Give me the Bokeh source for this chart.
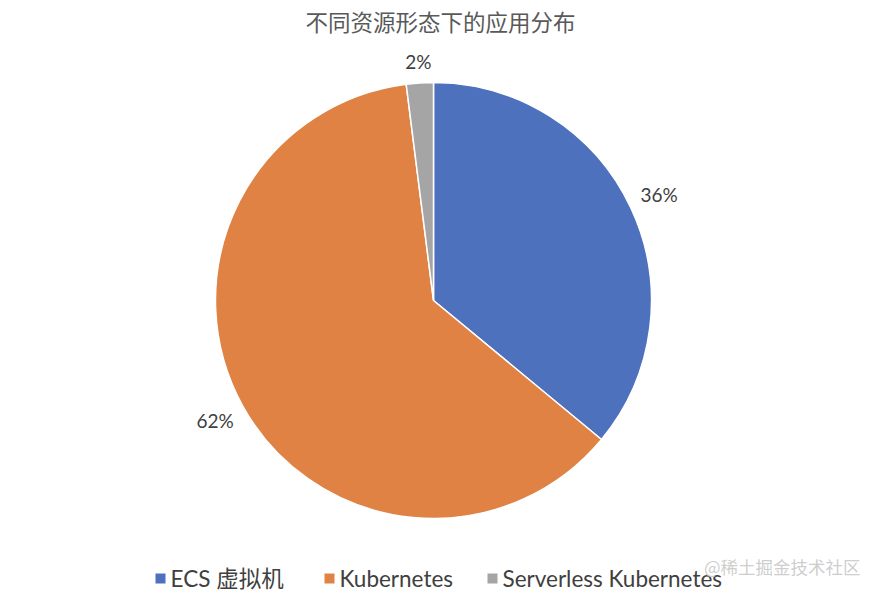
import math
from bokeh.plotting import figure
from bokeh.models import Range1d, ColumnDataSource
from bokeh.core.properties import value
from bokeh.embed import file_html
from bokeh.resources import INLINE

# Share of applications by resource form
categories = ["ECS 虚拟机", "Kubernetes", "Serverless Kubernetes"]
shares = [36, 62, 2]
colors = ["#4E71BE", "#DF8244", "#A5A5A5"]
title_text = "不同资源形态下的应用分布"
watermark = "@稀土掘金技术社区"

W, H = 878, 595
cx, cy, r = 433, H - 300, 218
label_fs = 19
label_gap = 11
font_main = "Lato, Noto Sans CJK SC, sans-serif"
font_cjk = "Noto Sans CJK SC"

total = sum(shares)
starts, ends, lx, ly, labels = [], [], [], [], []
acc = 0.0
for s in shares:
    a0 = math.pi / 2 - 2 * math.pi * acc / total
    acc += s
    a1 = math.pi / 2 - 2 * math.pi * acc / total
    starts.append(a0)
    ends.append(a1)
    mid = (a0 + a1) / 2
    text = f"{s}%"
    # keep the label box a fixed gap outside the rim
    hw = 0.31 * label_fs * len(text)
    hh = 10
    d = r + label_gap + hw * abs(math.cos(mid)) + hh * abs(math.sin(mid))
    lx.append(cx + d * math.cos(mid))
    ly.append(cy + d * math.sin(mid))
    labels.append(text)

src = ColumnDataSource(dict(start=starts, end=ends, color=colors,
                            lx=lx, ly=ly, label=labels, cat=categories))

p = figure(width=W, height=H, output_backend="svg", toolbar_location=None,
           x_range=Range1d(0, W), y_range=Range1d(0, H), min_border=0)
p.axis.visible = False
p.grid.visible = False
p.outline_line_color = None
p.background_fill_color = "white"

p.wedge(x=cx, y=cy, radius=r, start_angle="start", end_angle="end",
        direction="clock", fill_color="color", line_color="white",
        line_width=1.5, source=src)

p.text(x="lx", y="ly", text="label", source=src, text_align="center",
       text_baseline="middle", text_font=value(font_main),
       text_font_size=f"{label_fs}px", text_color="#404040")

# Title
p.text(x=[W / 2 + 1], y=[H - 20], text=[title_text], text_align="center",
       text_baseline="middle", text_font=value(font_cjk),
       text_font_size="22.5px", text_color="#595959")

# Legend row along the bottom
legend_x = [160, 329, 492]
legend_y = H - 578
p.scatter(x=legend_x, y=[legend_y] * 3, marker="square", size=10,
          fill_color=colors, line_color=None)
p.text(x=[x + 10 for x in legend_x], y=[legend_y] * 3, text=categories,
       text_align="left", text_baseline="middle",
       text_font=value(font_main), text_font_size="22.5px",
       text_color="#404040")

# Watermark
p.text(x=[860], y=[H - 566], text=[watermark], text_align="right",
       text_baseline="middle", text_font=value(font_cjk),
       text_font_size="17.5px", text_color="#C8C8C8", text_alpha=0.9)

open("out.html", "w").write(file_html(p, INLINE))
